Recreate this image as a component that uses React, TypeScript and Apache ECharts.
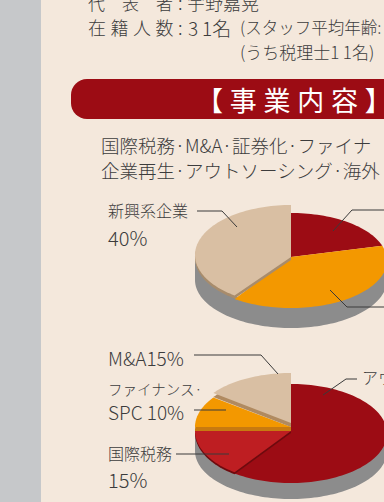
import React, { useEffect, useRef } from "react";
import * as echarts from "echarts";

// Pie values, percent, clockwise from 12 o'clock
const pie1Names = ["アウトソーシング", "海外進出支援", "新興系企業"];
const pie1Values = [20, 40, 40];
const pie2Names = ["アウトソーシング", "国際税務", "ファイナンス・SPC", "M&A"];
const pie2Values = [60, 15, 10, 15];

const SP = "\u2005";
const bannerTitle = ["【", "事", "業", "内", "容", "】"].join(SP);
const bodyLine1 = "国際税務·M&A·証券化·ファイナ";
const bodyLine2 = "企業再生·アウトソーシング·海外";

const RED = "#9C0C14";
const BRIGHT = "#BE1E22";
const ORANGE = "#F39800";
const TAN = "#D9BFA3";
const INK = "#3C3C3C";
const FONT = '"Noto Sans CJK JP", "Noto Sans", sans-serif';

type SliceStyle = { color: string; cy: number; ry: number; ay: number; band: number; bandColor: string };
type PieStyle = { cx: number; rx: number; wallTop: number; wallBottom: number; wallRy: number; slices: SliceStyle[] };

const pie1Style: PieStyle = {
  cx: 291, rx: 96, wallTop: 257, wallBottom: 280, wallRy: 48,
  slices: [
    { color: RED, cy: 260.5, ry: 47.5, ay: 257, band: 0, bandColor: RED },
    { color: ORANGE, cy: 260.5, ry: 47.5, ay: 257, band: 0, bandColor: ORANGE },
    { color: TAN, cy: 255, ry: 50, ay: 257, band: 3, bandColor: "#A88C6C" },
  ],
};
const pie2Style: PieStyle = {
  cx: 291, rx: 96, wallTop: 431, wallBottom: 451, wallRy: 48,
  slices: [
    { color: RED, cy: 433.5, ry: 49.5, ay: 431, band: 0, bandColor: RED },
    { color: BRIGHT, cy: 431, ry: 51, ay: 431, band: 2, bandColor: "#6E0A0E" },
    { color: ORANGE, cy: 427, ry: 50, ay: 427, band: 4, bandColor: "#C87A10" },
    { color: TAN, cy: 421.5, ry: 48.5, ay: 423, band: 4, bandColor: "#B08A60" },
  ],
};

function arc(cx: number, cy: number, rx: number, ry: number, from: number, to: number) {
  const pts: number[][] = [];
  const n = Math.max(2, Math.ceil(Math.abs(to - from) / 2));
  for (let i = 0; i <= n; i++) {
    const t = ((from + ((to - from) * i) / n) * Math.PI) / 180;
    pts.push([cx + rx * Math.sin(t), cy - ry * Math.cos(t)]);
  }
  return pts;
}

function pieSeries(values: number[], names: string[], st: PieStyle) {
  const total = values.reduce((a, b) => a + b, 0);
  return {
    type: "custom",
    coordinateSystem: "none",
    silent: true,
    clip: false,
    z: 2,
    data: values.map((v, i) => ({ name: names[i], value: [v] })),
    renderItem: (params: any, api: any) => {
      const i = params.dataIndex;
      const before = values.slice(0, i).reduce((a, b) => a + b, 0);
      const a0 = (before / total) * 360;
      const a1 = a0 + (api.value(0) / total) * 360;
      const s = st.slices[i];
      const children: any[] = [];
      if (i === 0) {
        const hull = [
          ...arc(st.cx, st.wallTop, st.rx, st.wallRy, 270, 90),
          ...arc(st.cx, st.wallBottom, st.rx, st.wallRy, 90, 270),
        ];
        children.push({ type: "polygon", shape: { points: hull }, style: { fill: "#8C8C8C" } });
      }
      if (s.band > 0) {
        const rim = arc(st.cx, s.cy + s.band, st.rx, s.ry, a0, a1);
        children.push({
          type: "polygon",
          shape: { points: [[st.cx, s.ay], [st.cx, s.ay + s.band], ...rim] },
          style: { fill: s.bandColor },
        });
      }
      const top = arc(st.cx, s.cy, st.rx, s.ry, a0, a1);
      children.push({
        type: "polygon",
        shape: { points: [[st.cx, s.ay], ...top] },
        style: { fill: s.color },
      });
      return { type: "group", children };
    },
  };
}

const txt = (text: string, x: number, y: number, fontSize: number, fill = INK, fontWeight: any = 300) => ({
  type: "text",
  x,
  y,
  z: 20,
  silent: true,
  style: { text, fill, fontSize, fontFamily: FONT, fontWeight, textVerticalAlign: "middle", textBaseline: "middle" },
});
const leader = (points: number[][]) => ({
  type: "polyline",
  z: 20,
  silent: true,
  shape: { points },
  style: { stroke: "#3A3A3A", lineWidth: 1, fill: "none" },
});

export default function App() {
  const ref = useRef<HTMLDivElement>(null);
  useEffect(() => {
    document.body.style.margin = "0";
    const chart = echarts.init(ref.current!, undefined, { renderer: "svg" });
    chart.setOption({
      animation: false,
      series: [pieSeries(pie1Values, pie1Names, pie1Style), pieSeries(pie2Values, pie2Names, pie2Style)],
      graphic: [
        { type: "rect", z: 0, silent: true, shape: { x: 0, y: 0, width: 384, height: 502 }, style: { fill: "#F4E8DC" } },
        { type: "rect", z: 0, silent: true, shape: { x: 0, y: 0, width: 41, height: 502 }, style: { fill: "#C6C8CA" } },
        { type: "rect", z: 1, silent: true, shape: { x: 71, y: 79, width: 340, height: 40, r: 16 }, style: { fill: RED } },
        txt("代", 88, 2, 17),
        txt("表", 122, 2, 17),
        txt("者", 156, 2, 17),
        txt(":" + SP + "宇野嘉晃", 178, 2, 18),
        txt(["在", "籍", "人", "数", ":"].join(SP), 88, 27, 18),
        txt("3\u20091名", 188, 27, 19),
        txt("(スタッフ平均年齢:", 240, 27, 16.5),
        txt("(うち税理士1\u20091名)", 240, 51, 17),
        txt(bannerTitle, 196, 99, 27, "#FFFFFF", 400),
        txt(bodyLine1, 101, 145, 18.5),
        txt(bodyLine2, 101, 170, 18.5),
        txt("新興系企業", 108, 210, 16),
        txt("40%", 108, 237, 20),
        leader([[197, 211], [222, 211], [237, 227]]),
        leader([[333, 231], [352, 210], [384, 210]]),
        leader([[330, 290], [347, 307], [384, 307]]),
        txt("M&A15%", 108, 357, 19),
        leader([[194, 355], [261, 355], [278, 374]]),
        txt("ファイナンス·", 108, 388, 14.5),
        txt("SPC 10%", 108, 411, 19),
        leader([[194, 410], [226, 410]]),
        txt("国際税務", 108, 453, 16),
        leader([[176, 454], [229, 454]]),
        txt("15%", 108, 479, 20),
        leader([[323, 395], [346, 379], [357, 379]]),
        txt("アウ", 362, 377, 16),
      ],
    });
    return () => chart.dispose();
  }, []);
  return <div ref={ref} style={{ width: 384, height: 502 }} />;
}
